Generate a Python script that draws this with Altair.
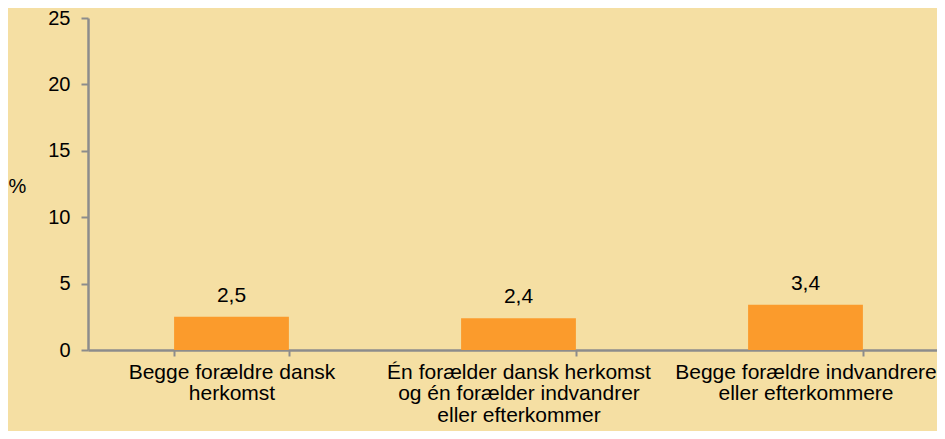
import altair as alt
import pandas as pd

categories = [
    "Begge forældre dansk\nherkomst",
    "Én forælder dansk herkomst\nog én forælder indvandrer\neller efterkommer",
    "Begge forældre indvandrere\neller efterkommere",
]
values = [2.5, 2.4, 3.4]

df = pd.DataFrame({"cat": categories, "val": values})

FONT = "Liberation Sans"
BG = "#F5DFA3"
BAR = "#FB9B2C"
AXIS = "#8C8C8C"

x = alt.X(
    "cat:N",
    sort=categories,
    scale=alt.Scale(paddingInner=0.6, paddingOuter=0.3, range=[0, 861]),
    axis=alt.Axis(
        title=None,
        labelAngle=0,
        labelExpr="split(datum.label, '\\n')",
        labelFontSize=21,
        labelLineHeight=21.5,
        labelColor="#000000",
        labelFont=FONT,
        labelPadding=5,
        tickBand="extent",
        tickSize=6,
        tickWidth=2,
        tickColor=AXIS,
        domainColor=AXIS,
        domainWidth=2.5,
        labelLimit=400,
    ),
)

y = alt.Y(
    "val:Q",
    scale=alt.Scale(domain=[0, 25]),
    axis=alt.Axis(
        title="%",
        titleAngle=0,
        titleX=-71,
        titleY=168,
        titleAlign="center",
        titleBaseline="middle",
        titleFontSize=20,
        titleFontWeight="normal",
        titleFont=FONT,
        titleColor="#000000",
        values=[0, 5, 10, 15, 20, 25],
        labelFontSize=20,
        labelFont=FONT,
        labelColor="#000000",
        labelPadding=11,
        tickSize=7,
        tickWidth=2,
        tickColor=AXIS,
        domainColor=AXIS,
        domainWidth=2.5,
        grid=False,
    ),
)

bars = alt.Chart(df).mark_bar(color=BAR).encode(x=x, y=y)

text = (
    alt.Chart(df)
    .transform_calculate(lab="replace(format(datum.val, '.1f'), '.', ',')")
    .mark_text(font=FONT, fontSize=21, baseline="alphabetic", dy=-15, color="#000000")
    .encode(x=x, y=y, text="lab:N")
)

chart = (
    alt.layer(bars, text)
    .properties(
        width=849,
        height=332,
        padding={"left": 80, "top": 10, "right": 0, "bottom": 81},
        autosize=alt.AutoSizeParams(type="none"),
        background=BG,
    )
    .configure_view(stroke=None)
)

chart.save("out.html", embed_options={"renderer": "svg", "actions": False})
